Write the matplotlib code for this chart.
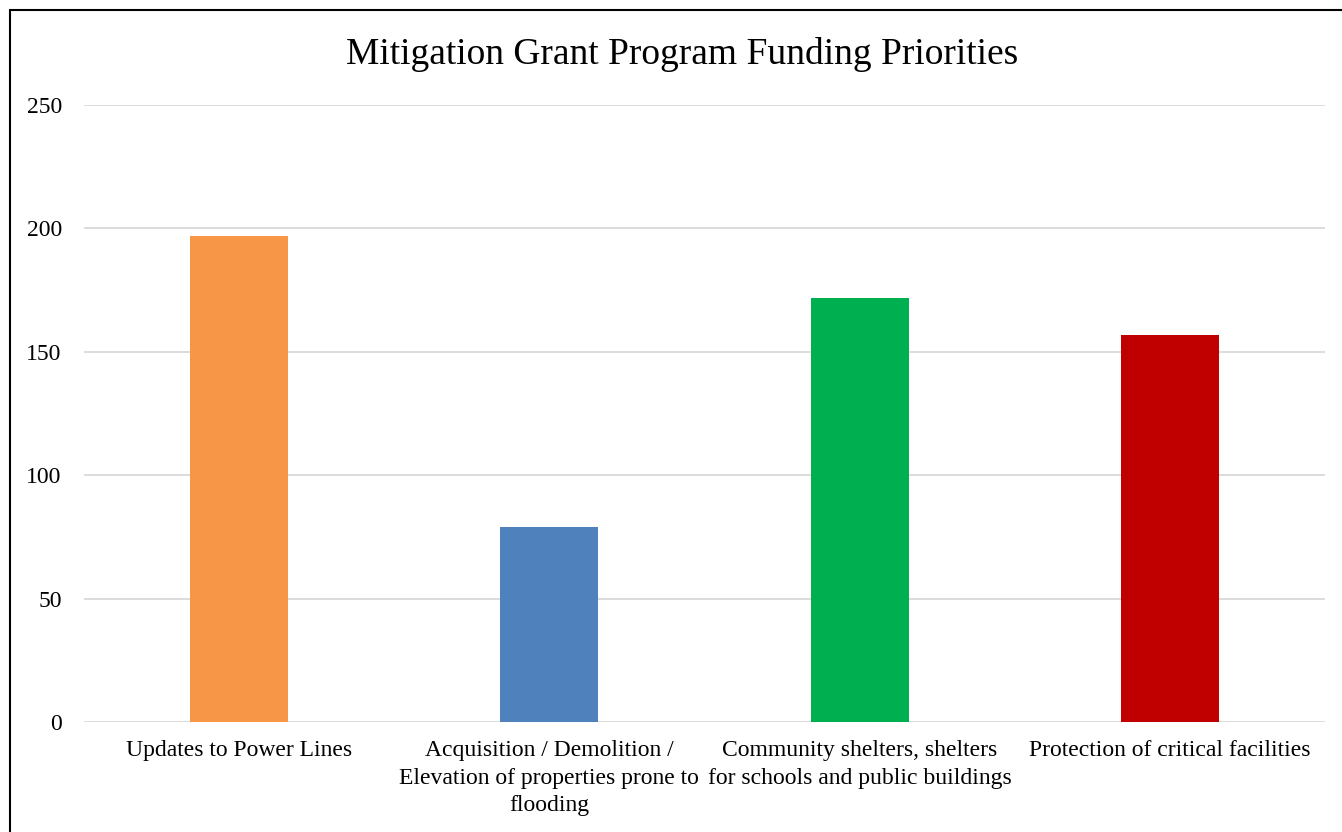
import matplotlib.pyplot as plt
from matplotlib.patches import Rectangle

categories = [
    "Updates to Power Lines",
    "Acquisition / Demolition /\nElevation of properties prone to\nflooding",
    "Community shelters, shelters\nfor schools and public buildings",
    "Protection of critical facilities",
]
values = [197, 79, 172, 157]
colors = ["#F79646", "#4F81BD", "#00B050", "#C00000"]
yticks = [0, 50, 100, 150, 200, 250]

plt.rcParams["font.family"] = ["Liberation Serif", "DejaVu Serif"]

W, H = 1342, 832
fig = plt.figure(figsize=(W / 100, H / 100), dpi=100)
ax = fig.add_axes([84 / W, 1 - 722 / H, (1325 - 84) / W, (722 - 105) / H])

x = range(len(categories))
ax.bar(x, values, width=0.316, color=colors, zorder=3)

ax.set_xlim(-0.5, len(categories) - 0.5)
ax.set_ylim(0, 250)
ax.set_yticks(yticks)
ax.set_yticklabels([str(t) for t in yticks], fontsize=17)
ax.set_xticks(list(x))
ax.set_xticklabels(categories, fontsize=17, linespacing=1.42, va="top")
ax.tick_params(axis="both", length=0)
ax.tick_params(axis="y", pad=16)
ax.tick_params(axis="x", pad=13)
ax.grid(axis="y", color="#D9D9D9", lw=1.3, zorder=0)
for s in ax.spines.values():
    s.set_visible(False)

fig.text(682 / W, 1 - 54 / H, "Mitigation Grant Program Funding Priorities",
         fontsize=27, ha="center", va="center")

# outer frame around the chart
fig.patches.append(Rectangle((10 / W, -0.01), 1.02 - 10 / W, 1 - 10 / H + 0.01,
                             transform=fig.transFigure, fill=False,
                             edgecolor="black", lw=1.5))

fig.savefig("out.png", dpi=100)
